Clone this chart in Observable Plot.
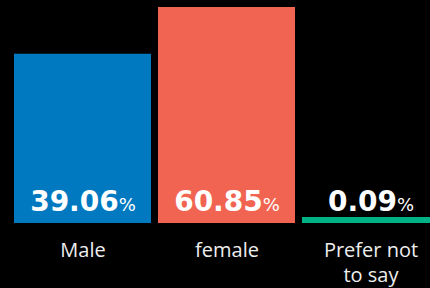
<!DOCTYPE html>
<html><head><meta charset="utf-8">
<script src="https://cdn.jsdelivr.net/npm/d3@7"></script>
<script src="https://cdn.jsdelivr.net/npm/@observablehq/plot@0.6"></script>
<style>html,body{margin:0;padding:0;background:#000;overflow:hidden}</style>
</head><body><div id="chart"></div>
<script>
const categories = ["Male", "female", "Prefer not to say"];
const values = [39.06, 60.85, 0.09];
const tickLabels = ["Male", "female", "Prefer not\nto say"];
const colors = ["#0079c1", "#f16451", "#00b386"];

const data = categories.map((c, i) => ({cat: c, value: values[i], label: tickLabels[i]}));

const splitPercent = (index, scales, vals, dims, ctx, next) => {
  const g = next(index, scales, vals, dims, ctx);
  d3.select(g).selectAll("text").each(function () {
    const t = d3.select(this);
    const s = t.text();
    t.text(s.replace("%", ""));
    t.append("tspan").attr("font-size", 18).attr("font-weight", 400).text("%");
  });
  return g;
};

const chart = Plot.plot({
  width: 430,
  height: 288,
  marginTop: 7,
  marginBottom: 65,
  marginLeft: 0,
  marginRight: 0,
  style: {background: "#000", fontFamily: "'Open Sans', sans-serif", overflow: "hidden"},
  x: {domain: categories, range: [13, 440], paddingInner: 0.048, paddingOuter: 0, axis: null},
  y: {type: "pow", exponent: 0.55, domain: [0, 60.85], axis: null},
  color: {domain: categories, range: colors},
  marks: [
    Plot.barY(data, {x: "cat", y: "value", fill: "cat"}),
    Plot.text(data, {
      x: "cat", frameAnchor: "bottom", lineAnchor: "bottom", dy: -13,
      text: d => d.value.toFixed(2) + "%",
      fontSize: 28, fontWeight: "bold", fontFamily: "'DejaVu Sans', sans-serif",
      fill: "#fff", render: splitPercent
    }),
    Plot.text(data, {
      x: "cat", frameAnchor: "bottom", lineAnchor: "top", dy: 16,
      text: "label", fontSize: 20, lineHeight: 1.25, fill: "#eee"
    })
  ]
});
document.getElementById("chart").appendChild(chart);
</script>
</body></html>
